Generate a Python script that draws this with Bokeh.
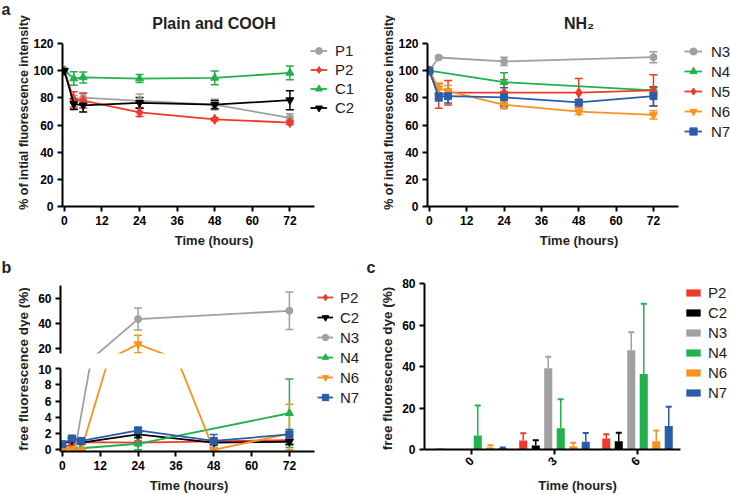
import math
from bokeh.plotting import figure
from bokeh.models import (Range1d, FixedTicker, Whisker, TeeHead, ColumnDataSource,
                          Legend, LegendItem)
from bokeh.layouts import row, column
from bokeh.embed import file_html
from bokeh.resources import INLINE
from bokeh.core.properties import value

# ---------------- Panel a (left): Plain and COOH ----------------
A_TIME = [0, 3, 6, 24, 48, 72]
P1 = [100, 77.7, 80.1, 77.8, 75.0, 65.2]
P1_ERR = [0, 4, 3, 5, 4, 3]
P2 = [100, 78.5, 78.0, 69.3, 64.2, 61.8]
P2_ERR = [0, 6, 5.5, 3, 1, 1.5]
C1 = [100, 94.2, 95.0, 94.2, 94.7, 98.4]
C1_ERR = [0, 5, 4, 3, 5, 5]
C2 = [100, 75.5, 74.5, 76.3, 75.0, 78.3]
C2_ERR = [0, 4, 5, 4, 3, 7]

# ---------------- Panel a (right): NH2 ----------------
N3_A_TIME = [0, 3, 24, 72]
N3_A = [100, 109.7, 106.8, 109.9]
N3_A_ERR = [0, 1, 3, 4]
N4_A_TIME = [0, 24, 72]
N4_A = [100, 91.5, 85.5]
N4_A_ERR = [0, 7, 2]
N5_A = [100, 81.4, 83.8, 83.8, 83.8, 85.5]
N5_A_ERR = [0, 9, 9, 9.5, 10.5, 11.5]
N6_A = [100, 87.0, 85.0, 74.9, 69.8, 67.4]
N6_A_ERR = [0, 4, 4, 3, 2, 3]
N7_A = [100, 80.7, 81.2, 80.4, 76.6, 81.2]
N7_A_ERR = [0, 3, 5, 7, 2, 7]

# ---------------- Panel b: free dye over time ----------------
B_TIME = [0, 3, 6, 24, 48, 72]
P2_B = [0.25, 0.7, 0.95, 0.9, 1.05, 1.2]
P2_B_ERR = [0.2, 0.3, 0.3, 0.2, 0.3, 0.6]
C2_B = [0.7, 1.2, 0.9, 1.9, 0.9, 1.0]
C2_B_ERR = [0.2, 0.3, 0.2, 0.4, 0.3, 0.3]
N3_B_TIME = [0, 4, 24, 72]
N3_B = [0.2, 0.05, 43.2, 49.8]
N3_B_ERR = [0.1, 0.05, 8.8, 15.0]
N4_B_TIME = [0, 6, 24, 72]
N4_B = [0.0, 0.2, 0.75, 4.5]
N4_B_ERR = [0.0, 0.1, 0.9, 4.2]
N6_B = [0.1, 0.1, 0.0, 23.2, 0.0, 2.0]
N6_B_ERR = [0.0, 0.0, 0.0, 7.0, 0.1, 3.6]
N7_B = [0.7, 1.4, 1.1, 2.4, 1.1, 1.9]
N7_B_ERR = [0.3, 0.3, 0.3, 0.3, 0.8, 0.6]

# ---------------- Panel c: free dye by time ----------------
C_TIMES = ["0", "3", "6"]
P2_C = [0.5, 4.3, 5.3]
P2_C_ERR = [0.0, 3.5, 2.0]
C2_C = [0.3, 1.9, 4.0]
C2_C_ERR = [0.0, 2.6, 4.1]
N3_C = [0.0, 39.2, 47.8]
N3_C_ERR = [0.0, 5.5, 8.7]
N4_C = [6.8, 10.2, 36.4]
N4_C_ERR = [14.4, 14.0, 33.8]
N6_C = [1.0, 1.6, 4.0]
N6_C_ERR = [1.0, 1.6, 5.2]
N7_C = [0.7, 3.7, 11.3]
N7_C_ERR = [0.3, 4.3, 9.3]

# ---------------- styles ----------------
FONT = "Liberation Sans"
TXT = "#222222"
GRAY = "#A0A0A0"
RED = "#EE3A2A"
GREEN = "#22B14C"
BLACK = "#000000"
ORANGE = "#F7931E"
BLUE = "#2A5CAA"
MSIZE = {"circle": 7, "diamond": 10, "triangle": 8, "inverted_triangle": 8, "square": 7}
X_TICKS = [0, 12, 24, 36, 48, 60, 72]
XS = -0.6


def make_fig(w, h, xr, yr, ml, mr, mt, mb, **kw):
    p = figure(width=w, height=h, x_range=Range1d(*xr), y_range=Range1d(*yr),
               output_backend="svg", toolbar_location=None,
               min_border_left=ml, min_border_right=mr,
               min_border_top=mt, min_border_bottom=mb, **kw)
    p.outline_line_color = None
    p.grid.visible = False
    p.background_fill_color = "white"
    p.border_fill_color = "white"
    return p


def text_fig(w, h):
    return make_fig(w, h, (0, w), (0, h), 0, 0, 0, 0,
                    x_axis_location=None, y_axis_location=None)


def put_text(p, x, y, text, size, angle=0.0, align="left", baseline="top"):
    p.text(x=[x], y=[y], text=[text], angle=angle, text_font=value(FONT),
           text_font_style="bold", text_font_size=size, text_align=align,
           text_baseline=baseline, text_color=TXT)


def style_axes(p):
    for ax in p.axis:
        ax.axis_line_width = 2
        ax.axis_line_color = "black"
        ax.major_tick_line_width = 2
        ax.major_tick_line_color = "black"
        ax.major_tick_out = 5
        ax.major_tick_in = 0
        ax.minor_tick_line_color = None
        ax.major_label_text_font = FONT
        ax.major_label_text_font_style = "bold"
        ax.major_label_text_font_size = "12px"
        ax.major_label_text_color = "black"
        ax.major_label_standoff = 4
        ax.axis_label_text_font = FONT
        ax.axis_label_text_font_style = "bold"
        ax.axis_label_text_font_size = "13px"
        ax.axis_label_text_color = TXT
        ax.axis_label_standoff = 5


def set_title(p, text, offset, standoff):
    p.title.text = text
    p.title.align = "center"
    p.title.offset = offset
    p.title.standoff = standoff
    p.title.text_font = FONT
    p.title.text_font_size = "16px"
    p.title.text_font_style = "bold"
    p.title.text_color = TXT


def draw_series(p, t, y, err, color, marker, lo=None, hi=None, clip0=False):
    src = ColumnDataSource(dict(x=list(t), y=list(y)))
    lr = p.line("x", "y", source=src, line_color=color, line_width=1.8)
    sr = p.scatter("x", "y", source=src, marker=marker, size=MSIZE[marker],
                   fill_color=color, line_color=color)
    wx, wl, wu = [], [], []
    for xi, yi, ei in zip(t, y, err):
        if ei <= 0:
            continue
        if lo is not None and not (lo <= yi <= hi):
            continue
        wx.append(xi)
        wu.append(yi + ei)
        wl.append(max(0.0, yi - ei) if clip0 else yi - ei)
    if wx:
        ws = ColumnDataSource(dict(base=wx, lower=wl, upper=wu))
        p.add_layout(Whisker(source=ws, base="base", lower="lower", upper="upper",
                             line_color=color, line_width=1.5,
                             upper_head=TeeHead(size=8, line_color=color, line_width=1.5),
                             lower_head=TeeHead(size=8, line_color=color, line_width=1.5)))
    return lr, sr


def make_legend(items, loc, gw, gh, lh, standoff, spacing):
    return Legend(items=items, location=loc, glyph_width=gw, glyph_height=gh,
                  label_height=lh, label_standoff=standoff, spacing=spacing,
                  padding=0, margin=0, border_line_alpha=0, background_fill_alpha=0,
                  label_text_font=FONT, label_text_font_size="15px",
                  label_text_color=TXT)


def style_time_axis(p):
    p.xaxis.ticker = FixedTicker(ticks=X_TICKS)
    p.xaxis.bounds = (XS, 80)
    p.xaxis.axis_label = "Time (hours)"


# ================= Panel a left (page x 0..365, y 0..250) =================
LAB_W = 30
A_H = 250
A1_SX = 3.153
A1_L, A1_T, A1_B = 60, 42, 207
TITLE_STANDOFF = 24
pa1 = make_fig(335, A_H, (XS, XS + (365 - A1_L) / A1_SX), (0, 120),
               A1_L - LAB_W, 0, A1_T, A_H - A1_B)
style_axes(pa1)
style_time_axis(pa1)
pa1.yaxis.ticker = FixedTicker(ticks=[0, 20, 40, 60, 80, 100, 120])
set_title(pa1, "Plain and COOH", 188 - (A1_L + 365) / 2, TITLE_STANDOFF)
a1_series = [("P1", P1, P1_ERR, GRAY, "circle"),
             ("P2", P2, P2_ERR, RED, "diamond"),
             ("C1", C1, C1_ERR, GREEN, "triangle"),
             ("C2", C2, C2_ERR, BLACK, "inverted_triangle")]
items = []
for name, vals, errs, col, mk in a1_series:
    lr, sr = draw_series(pa1, A_TIME, vals, errs, col, mk)
    items.append(LegendItem(label=name, renderers=[lr, sr]))
pa1.add_layout(make_legend(items, (308 - A1_L, A1_B - 42 - 4 * 19), 17, 19, 19, 8, 0))

la1 = text_fig(LAB_W, A_H)
put_text(la1, 1, A_H - 0, "a", "16px")
put_text(la1, 23, A_H - 112, "% of intial fluorescence intensity", "12.5px",
         angle=math.pi / 2, align="center", baseline="middle")

# ================= Panel a right (page x 365..730, y 0..250) =================
A2_SX = 3.133
A2_L = 425
pa2 = make_fig(335, A_H, (XS, XS + (730 - A2_L) / A2_SX), (0, 120),
               A2_L - 365 - LAB_W, 0, A1_T, A_H - A1_B)
style_axes(pa2)
style_time_axis(pa2)
pa2.yaxis.ticker = FixedTicker(ticks=[0, 20, 40, 60, 80, 100, 120])
set_title(pa2, "NH₂", 553 - (A2_L + 730) / 2, TITLE_STANDOFF)
a2_series = [("N3", N3_A_TIME, N3_A, N3_A_ERR, GRAY, "circle"),
             ("N4", N4_A_TIME, N4_A, N4_A_ERR, GREEN, "triangle"),
             ("N5", A_TIME, N5_A, N5_A_ERR, RED, "diamond"),
             ("N6", A_TIME, N6_A, N6_A_ERR, ORANGE, "inverted_triangle"),
             ("N7", A_TIME, N7_A, N7_A_ERR, BLUE, "square")]
items = []
for name, t, vals, errs, col, mk in a2_series:
    lr, sr = draw_series(pa2, t, vals, errs, col, mk)
    items.append(LegendItem(label=name, renderers=[lr, sr]))
pa2.add_layout(make_legend(items, (682 - A2_L, A1_B - 42 - 5 * 20), 18, 20, 20, 9, 0))

la2 = text_fig(LAB_W, A_H)
put_text(la2, 388 - 365, A_H - 112, "% of intial fluorescence intensity", "12.5px",
         angle=math.pi / 2, align="center", baseline="middle")

# ================= Panel b (page x 0..365, y 250..495), broken y axis =================
B_H = 245
B_SX = 3.153
B_L = 60
B_XR = (XS, XS + (317 - B_L) / B_SX)
TOP_YR = (15.7, 70)
BOT_YR = (-0.2, 10)
pbt = make_fig(287, 114, B_XR, TOP_YR, B_L - LAB_W, 0, 35, 11, x_axis_location=None)
pbb = make_fig(287, 131, B_XR, BOT_YR, B_L - LAB_W, 0, 4, 42)
style_axes(pbt)
style_axes(pbb)
pbt.yaxis.ticker = FixedTicker(ticks=[20, 40, 60])
pbb.yaxis.ticker = FixedTicker(ticks=[0, 2, 4, 6, 8, 10])
style_time_axis(pbb)
b_series = [("P2", B_TIME, P2_B, P2_B_ERR, RED, "diamond"),
            ("C2", B_TIME, C2_B, C2_B_ERR, BLACK, "inverted_triangle"),
            ("N3", N3_B_TIME, N3_B, N3_B_ERR, GRAY, "circle"),
            ("N4", N4_B_TIME, N4_B, N4_B_ERR, GREEN, "triangle"),
            ("N6", B_TIME, N6_B, N6_B_ERR, ORANGE, "inverted_triangle"),
            ("N7", B_TIME, N7_B, N7_B_ERR, BLUE, "square")]
for name, t, vals, errs, col, mk in b_series:
    draw_series(pbt, t, vals, errs, col, mk, lo=15.0, hi=100.0)
    draw_series(pbb, t, vals, errs, col, mk, lo=-1.0, hi=10.0, clip0=True)

lb = text_fig(LAB_W, B_H)
put_text(lb, 1, 495 - 258, "b", "16px")
put_text(lb, 23, 495 - 368.5, "free fluorescence dye (%)", "13.5px",
         angle=math.pi / 2, align="center", baseline="middle")

# legend of panel b in its own narrow plot (data ranges kept away from the series)
pbg = make_fig(48, B_H, (1000, 1001), (1000, 1001), 0, 0, 37, 0,
               x_axis_location=None, y_axis_location=None)
items = []
for name, t, vals, errs, col, mk in b_series:
    es = ColumnDataSource(dict(x=list(t), y=list(vals)))
    lr = pbg.line("x", "y", source=es, line_color=col, line_width=1.8)
    sr = pbg.scatter("x", "y", source=es, marker=mk, size=MSIZE[mk], fill_color=col, line_color=col)
    items.append(LegendItem(label=name, renderers=[lr, sr]))
pbg.add_layout(make_legend(items, "top_left", 16, 20, 20, 7, 0))

# ================= Panel c (page x 365..730, y 250..495) =================
C_L, C_T, C_B = 424, 283, 450
C_UNIT = 83.0
CXS = -(471 - C_L) / C_UNIT
pc = make_fig(335, B_H, (CXS, CXS + (730 - C_L) / C_UNIT), (0, 80),
              C_L - 365 - LAB_W, 0, C_T - 250, 495 - C_B)
style_axes(pc)
idx = list(range(len(C_TIMES)))
pc.xaxis.ticker = FixedTicker(ticks=idx)
pc.xaxis.major_label_overrides = {i: lab for i, lab in zip(idx, C_TIMES)}
pc.xaxis.major_label_orientation = math.pi / 4
pc.xaxis.bounds = (CXS, 2.518)
pc.yaxis.ticker = FixedTicker(ticks=[0, 20, 40, 60, 80])
pc.xaxis.axis_label = "Time (hours)"
c_series = [("P2", P2_C, P2_C_ERR, RED),
            ("C2", C2_C, C2_C_ERR, BLACK),
            ("N3", N3_C, N3_C_ERR, GRAY),
            ("N4", N4_C, N4_C_ERR, GREEN),
            ("N6", N6_C, N6_C_ERR, ORANGE),
            ("N7", N7_C, N7_C_ERR, BLUE)]
BAR_STEP = 0.1506
BAR_W = 0.097
n = len(c_series)
items = []
for k, (name, vals, errs, col) in enumerate(c_series):
    off = (k - (n - 1) / 2) * BAR_STEP
    xb = [i + off for i in idx]
    src = ColumnDataSource(dict(x=xb, top=vals))
    r = pc.vbar(x="x", top="top", width=BAR_W, source=src, fill_color=col, line_color=None)
    items.append(LegendItem(label=name, renderers=[r]))
    wx = [x for x, e in zip(xb, errs) if e > 0]
    wl = [v for v, e in zip(vals, errs) if e > 0]
    wu = [v + e for v, e in zip(vals, errs) if e > 0]
    if wx:
        ws = ColumnDataSource(dict(base=wx, lower=wl, upper=wu))
        pc.add_layout(Whisker(source=ws, base="base", lower="lower", upper="upper",
                              line_color=col, line_width=1.5, lower_head=None,
                              upper_head=TeeHead(size=6, line_color=col, line_width=2)))
pc.add_layout(make_legend(items, (684 - C_L, C_B - 283 - 6 * 20), 18, 9, 20, 6, 0))

lc = text_fig(LAB_W, B_H)
put_text(lc, 1, 495 - 258, "c", "16px")
put_text(lc, 386.7 - 365, 495 - 368, "free fluorescence dye (%)", "13.5px",
         angle=math.pi / 2, align="center", baseline="middle")

# ================= layout =================
left = column(row(column(la1), column(pa1)),
              row(column(lb), column(pbt, pbb), column(pbg)))
right = column(row(column(la2), column(pa2)),
               row(column(lc), column(pc)))
layout = row(left, right)

open("out.html", "w").write(file_html(layout, INLINE))
